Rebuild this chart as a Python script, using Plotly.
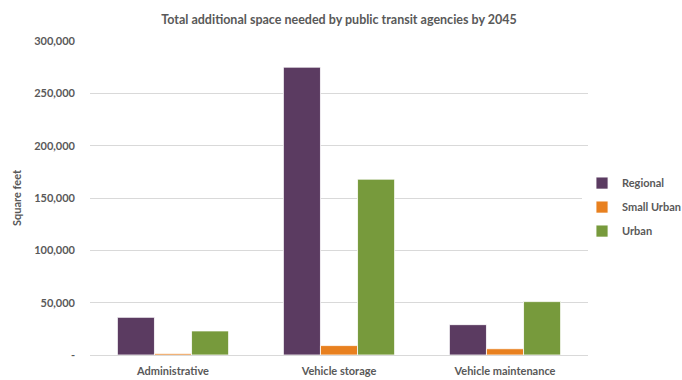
import plotly.graph_objects as go

categories = ["Administrative", "Vehicle storage", "Vehicle maintenance"]
series_names = ["Regional", "Small Urban", "Urban"]
regional = [36000, 275000, 29000]
small_urban = [1500, 9000, 6000]
urban = [23000, 168000, 51000]
tick_values = [0, 50000, 100000, 150000, 200000, 250000, 300000]
tick_labels = ["-", "50,000", "100,000", "150,000", "200,000", "250,000", "300,000"]

colors = ["#5B3B61", "#E8801F", "#779A3C"]
font_family = "Lato, 'Open Sans', sans-serif"
text_color = "#595959"

fig = go.Figure()
for name, vals, col in zip(series_names, [regional, small_urban, urban], colors):
    fig.add_trace(go.Bar(
        x=categories, y=vals, name=name, legendgroup=name,
        marker=dict(color=col, line=dict(color="#ffffff", width=0.8)),
    ))

fig.update_layout(
    width=682, height=380,
    margin=dict(l=90, r=94, t=41, b=25, autoexpand=False),
    paper_bgcolor="#ffffff", plot_bgcolor="#ffffff",
    barmode="group", bargap=0.33, bargroupgap=0,
    font=dict(family=font_family, color=text_color, size=11, weight="bold"),
    title=dict(
        text="<b>Total additional space needed by public transit agencies by 2045</b>",
        x=0.5, xref="paper", y=0.96, yref="container", xanchor="center",
        font=dict(size=12.5, color=text_color),
    ),
    legend=dict(
        x=0.988, y=0.471, xanchor="left", yanchor="middle",
        font=dict(size=11, color=text_color, weight="bold"),
        itemwidth=30, tracegroupgap=5,
    ),
    xaxis=dict(showgrid=False, showline=False, ticks="", ticklabelstandoff=8,
               tickfont=dict(size=11, color=text_color, weight="bold")),
    yaxis=dict(
        range=[0, 300000], tickvals=tick_values, ticktext=tick_labels,
        showgrid=True, gridcolor="#D9D9D9", gridwidth=1,
        zeroline=True, zerolinecolor="#D9D9D9", zerolinewidth=1,
        tickfont=dict(size=11, color=text_color, weight="bold"),
        ticks="", ticklen=0, ticklabelstandoff=14,
        title=dict(text="<b>Square feet</b>", font=dict(size=11, color=text_color), standoff=10),
    ),
)

fig.write_html("out.html")
